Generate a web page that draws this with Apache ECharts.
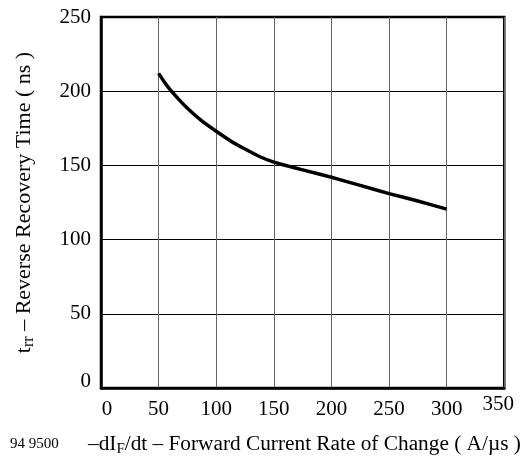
<!DOCTYPE html>
<html>
<head>
<meta charset="utf-8">
<script src="https://cdn.jsdelivr.net/npm/echarts@6/dist/echarts.min.js"></script>
<style>html,body{margin:0;padding:0;background:#fff}#c{width:529px;height:460px}</style>
</head>
<body>
<div id="c"></div>
<script>
const xValues = [50, 55, 60, 67.5, 75, 87.5, 100, 112.5, 125, 137.5, 150, 162.5, 175, 200, 225, 250, 275, 300];
const trrValues = [212, 206.2, 201, 194.5, 188.5, 180, 173, 166.5, 161, 156, 152.2, 149.5, 147, 142, 136.5, 131, 126, 120.5];
const xTicks = [0, 50, 100, 150, 200, 250, 300, 350];
const yTicks = [0, 50, 100, 150, 200, 250];
const xTitle = '–dI{sub|F}/dt – Forward Current Rate of Change ( A/µs )';
const figCode = '94 9500';

const FONT = '"Liberation Serif", "Times New Roman", serif';
const chart = echarts.init(document.getElementById('c'), null, {renderer: 'canvas'});
chart.setOption({
  animation: false,
  backgroundColor: '#fff',
  textStyle: {fontFamily: FONT, color: '#000'},
  grid: {left: 101, right: 20, top: 17, bottom: 72, show: true, borderColor: '#000', borderWidth: 2.5, backgroundColor: 'transparent'},
  xAxis: {
    type: 'value', min: xTicks[0], max: xTicks[xTicks.length - 1], interval: 50,
    axisLine: {show: true, lineStyle: {color: '#000', width: 2.5}},
    axisTick: {show: false},
    splitLine: {show: true, lineStyle: {color: '#666', width: 1}},
    axisLabel: {
      margin: 11, fontSize: 21, fontFamily: FONT, color: '#000',
      formatter: v => v === 350 ? '{hi|350}' : (v === 0 ? '{z|0}' : String(v)),
      rich: {hi: {fontSize: 21, fontFamily: FONT, lineHeight: 11, padding: [0, 12, 0, 0]}, z: {fontSize: 21, fontFamily: FONT, padding: [0, 0, 0, 12]}}
    }
  },
  yAxis: {
    type: 'value', min: yTicks[0], max: yTicks[yTicks.length - 1], interval: 50,
    axisLine: {show: true, lineStyle: {color: '#000', width: 2.5}},
    axisTick: {show: false},
    splitLine: {show: true, lineStyle: {color: '#000', width: 1}},
    axisLabel: {
      margin: 10, fontSize: 21, fontFamily: FONT, color: '#000',
      formatter: v => v === 0 ? '{z|0}' : String(v),
      rich: {z: {fontSize: 21, fontFamily: FONT, padding: [0, 0, 14, 0]}}
    },
    name: 't{sub|rr} – Reverse Recovery Time ( ns )',
    nameLocation: 'middle', nameRotate: 90, nameGap: 64,
    nameTextStyle: {fontSize: 22, fontFamily: FONT, color: '#000', lineHeight: 26,
      rich: {sub: {fontSize: 16, fontFamily: FONT, verticalAlign: 'bottom', lineHeight: 13}}}
  },
  graphic: [
    {type: 'text', left: 10, top: 437, style: {text: figCode, font: '15px ' + FONT, fill: '#000'}},
    {type: 'text', left: 88, top: 432, style: {
      text: xTitle, fontSize: 21.3, fontFamily: FONT, fill: '#000', lineHeight: 25,
      rich: {sub: {fontSize: 15, fontFamily: FONT, verticalAlign: 'bottom', lineHeight: 12}}
    }}
  ],
  series: [{
    type: 'line', data: xValues.map((x, i) => [x, trrValues[i]]),
    smooth: 0.2, showSymbol: false, symbol: 'none',
    lineStyle: {color: '#000', width: 3.5, cap: 'butt', join: 'round'}
  }]
});
</script>
</body>
</html>
